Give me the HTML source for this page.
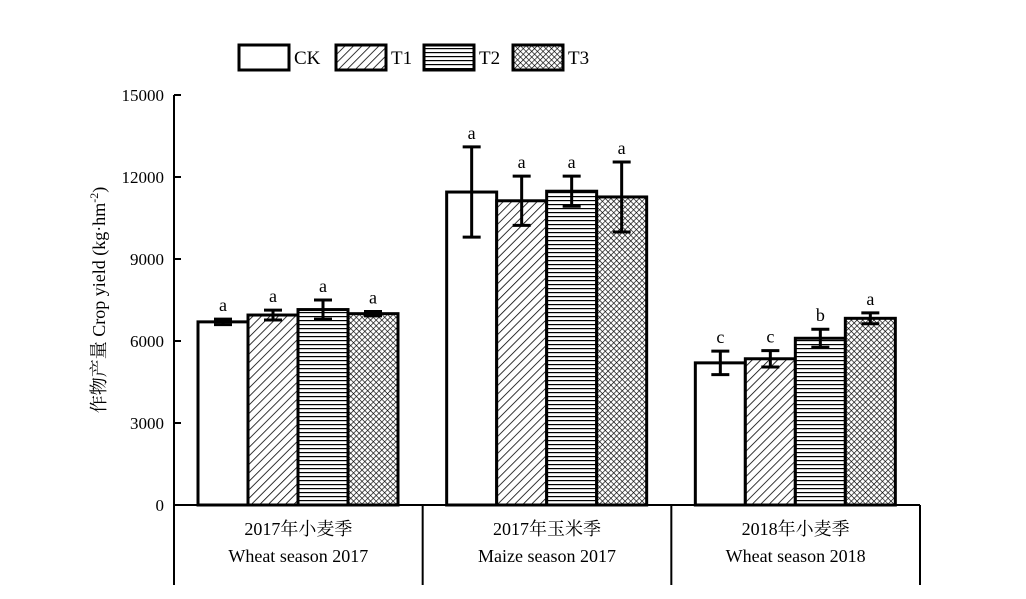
<!DOCTYPE html>
<html><head><meta charset="utf-8"><style>
body{margin:0;background:#fff;}
svg{display:block;font-family:"Liberation Serif","Noto Serif CJK SC",serif;}
</style></head><body>
<svg id="c" width="1026" height="599" viewBox="0 0 1026 599">
<defs>
<pattern id="pT1" width="6" height="6" patternUnits="userSpaceOnUse" patternTransform="rotate(45)"><rect width="6" height="6" fill="#fff"/><line x1="0" y1="0" x2="0" y2="6" stroke="#000" stroke-width="1.6"/></pattern>
<pattern id="pT2" width="4" height="4" patternUnits="userSpaceOnUse"><rect width="4" height="4" fill="#fff"/><line x1="0" y1="0.6" x2="4" y2="0.6" stroke="#000" stroke-width="1.2"/></pattern>
<pattern id="pT3" width="4" height="4" patternUnits="userSpaceOnUse" patternTransform="rotate(45)"><rect width="4" height="4" fill="#fff"/><line x1="0" y1="0" x2="4" y2="0" stroke="#000" stroke-width="1.3"/><line x1="0" y1="0" x2="0" y2="4" stroke="#000" stroke-width="1.3"/></pattern>
</defs>
<g id="plot"></g>
</svg>
<script>
const groups=["2017年小麦季|Wheat season 2017","2017年玉米季|Maize season 2017","2018年小麦季|Wheat season 2018"];
const series=["CK","T1","T2","T3"];
const ck=[6700,11450,5200];
const t1=[6950,11130,5350];
const t2=[7150,11480,6100];
const t3=[7000,11270,6830];
const errCK=[100,1650,430];
const errT1=[180,900,300];
const errT2=[350,550,330];
const errT3=[80,1280,200];
const lettersCK=["a","a","c"];
const lettersT1=["a","a","c"];
const lettersT2=["a","a","b"];
const lettersT3=["a","a","a"];
const yTicks=[0,3000,6000,9000,12000,15000];

const NS="http://www.w3.org/2000/svg";
const g=document.getElementById('plot');
function el(t,a,txt){const e=document.createElementNS(NS,t);for(const k in a)e.setAttribute(k,a[k]);if(txt!==undefined)e.textContent=txt;g.appendChild(e);return e;}
const x0=174,x1=920,yB=505,yT=95;
const y=v=>yB-(v/15000)*(yB-yT);
const groupW=(x1-x0)/3, barW=50;
const fills=["#fff","url(#pT1)","url(#pT2)","url(#pT3)"];
const vals=[ck,t1,t2,t3], errs=[errCK,errT1,errT2,errT3], lets=[lettersCK,lettersT1,lettersT2,lettersT3];
const bx=(gi,si)=>x0+gi*groupW+24+si*barW;

// y axis
let e=el('line',{x1:x0,y1:yT,x2:x0,y2:yB,stroke:'#000','stroke-width':2});

yTicks.forEach(v=>{
 let t=el('line',{x1:x0,y1:y(v),x2:x0+7,y2:y(v),stroke:'#000','stroke-width':2});
 
 let l=el('text',{x:x0-10,y:y(v)+6,'text-anchor':'end','font-size':17},v);
 
});
e=el('text',{transform:'translate(105,300) rotate(-90)','text-anchor':'middle','font-size':18},'');

e.innerHTML='作物产量 Crop yield (kg·hm<tspan dy="-7" font-size="12">-2</tspan><tspan dy="7">)</tspan>';

// x axis & separators
e=el('line',{x1:x0,y1:yB,x2:x1,y2:yB,stroke:'#000','stroke-width':2});

for(let i=0;i<=3;i++){
 let s=el('line',{x1:x0+i*groupW,y1:yB,x2:x0+i*groupW,y2:585,stroke:'#000','stroke-width':2});
 
}
groups.forEach((gn,gi)=>{
 const [cn,en]=gn.split('|');const cx=x0+(gi+0.5)*groupW;
 let a=el('text',{x:cx,y:535,'text-anchor':'middle','font-size':18},cn);
 
 let b=el('text',{x:cx,y:562,'text-anchor':'middle','font-size':18},en);
 
});

// bars
groups.forEach((gn,gi)=>{
 series.forEach((s,si)=>{
  const v=vals[si][gi],er=errs[si][gi],x=bx(gi,si);
  let r=el('rect',{x:x,y:y(v),width:barW,height:yB-y(v),fill:fills[si],stroke:'#000','stroke-width':3});
  
  const cx=x+barW/2;
  let eb=el('path',{d:`M${cx},${y(v+er)}V${y(v-er)}M${cx-9},${y(v+er)}H${cx+9}M${cx-9},${y(v-er)}H${cx+9}`,stroke:'#000','stroke-width':3,fill:'none'});
  
  let lt=el('text',{x:cx,y:y(v+er)-8,'text-anchor':'middle','font-size':18},lets[si][gi]);
  
 });
});

// legend
const lx=[239,336,424,513];
series.forEach((s,si)=>{
 let r=el('rect',{x:lx[si],y:45,width:50,height:25,fill:fills[si],stroke:'#000','stroke-width':3});
 
 let t=el('text',{x:lx[si]+55,y:64,'font-size':19},s);
 
});
</script>
</body></html>
